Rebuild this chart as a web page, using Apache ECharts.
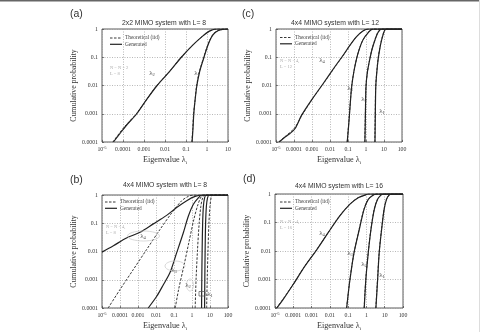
<!DOCTYPE html>
<html><head><meta charset="utf-8">
<script src="https://cdn.jsdelivr.net/npm/echarts@6/dist/echarts.min.js"></script>
<style>html,body{margin:0;padding:0;background:#fff}#c{width:480px;height:332px}</style>
</head><body><div id="c"></div>
<script>
// ---- tick labels ----
const yTickExp = [-4, -3, -2, -1, 0];
const yTickLabels = ['0.0001', '0.001', '0.01', '0.1', '1'];
const xTickExp = [-5, -4, -3, -2, -1, 0, 1, 2];
const xTickLabels = ['{b|10}{p|-5}', '0.0001', '0.001', '0.01', '0.1', '1', '10', '100'];

// ---- panel text ----
const panelLetters = ['(a)', '(c)', '(b)', '(d)'];
const panelTitles = ['2x2 MIMO system with L= 8', '4x4 MIMO system with L= 12', '4x4 MIMO system with L= 8', '4x4 MIMO system with L= 16'];
const legendNames = ['Theoretical (iid)', 'Generated'];
const panelXMax = [10, 100, 100, 100];

// ---- (a) 2x2, L=8 : [eigenvalue, cumulative probability] ----
const aTheL2 = [[3.3e-5,1e-4],[1.0e-4,3e-4],[4.3e-4,1e-3],[1.3e-3,3.1e-3],[4.1e-3,0.01],[0.017,0.032],[0.058,0.1],[0.2,0.26],[0.6,0.55],[1.3,0.84],[2.3,0.98],[3.2,1],[10,1]];
const aGenL2 = [[3.5e-5,1e-4],[7.2e-5,2.0e-4],[1.5e-4,4.0e-4],[4.5e-4,1e-3],[1.3e-3,3.1e-3],[4.2e-3,0.01],[0.017,0.032],[0.06,0.1],[0.21,0.27],[0.62,0.56],[1.3,0.84],[2.2,0.98],[3,1],[10,1]];
const aTheL1 = [[0.19,1e-4],[0.21,3e-4],[0.23,1e-3],[0.27,3e-3],[0.32,0.01],[0.44,0.032],[0.7,0.1],[1.02,0.24],[1.55,0.5],[2.3,0.73],[3.4,0.88],[5.5,0.97],[8.5,1],[10,1]];
const aGenL1 = [[0.195,1e-4],[0.215,3e-4],[0.235,1e-3],[0.27,3e-3],[0.33,0.01],[0.45,0.032],[0.72,0.1],[1.05,0.24],[1.6,0.5],[2.3,0.72],[3.5,0.88],[5.5,0.97],[8,1],[10,1]];

// ---- (c) 4x4, L=12 ----
const cTheL4 = [[1.4e-5,1e-4],[3.0e-5,1.5e-4],[1.1e-4,3.2e-4],[2.8e-4,9e-4],[9.8e-4,3.1e-3],[4.4e-3,0.012],[0.019,0.046],[0.056,0.12],[0.13,0.27],[0.3,0.54],[0.7,0.87],[1.3,1],[100,1]];
const cGenL4 = [[1.5e-5,1e-4],[3.2e-5,1.5e-4],[6.0e-5,2.0e-4],[1.15e-4,3.0e-4],[2.7e-4,9.1e-4],[9.5e-4,3.1e-3],[4.3e-3,0.012],[0.019,0.047],[0.055,0.12],[0.13,0.27],[0.3,0.54],[0.71,0.87],[1.35,1],[100,1]];
const cTheL3 = [[0.09,1e-4],[0.113,6e-4],[0.134,2.5e-3],[0.158,9e-3],[0.21,0.03],[0.3,0.09],[0.42,0.19],[0.6,0.35],[0.85,0.52],[1.15,0.66],[1.6,0.85],[2.4,1],[100,1]];
const cGenL3 = [[0.091,1e-4],[0.115,6e-4],[0.135,2.5e-3],[0.16,9e-3],[0.21,0.03],[0.3,0.09],[0.42,0.19],[0.6,0.35],[0.85,0.52],[1.15,0.66],[1.6,0.85],[2.45,1],[100,1]];
const cTheL2 = [[0.86,1e-4],[0.92,1e-3],[0.99,9e-3],[1.2,0.03],[1.65,0.09],[2.2,0.2],[3.1,0.41],[4.3,0.71],[5.6,0.9],[7.0,1],[100,1]];
const cGenL2 = [[0.87,1e-4],[0.93,1e-3],[1.0,9e-3],[1.2,0.03],[1.66,0.091],[2.2,0.2],[3.16,0.41],[4.4,0.71],[5.7,0.9],[7.0,1],[100,1]];
const cTheL1 = [[3.1,1e-4],[3.25,1e-3],[3.45,9e-3],[3.95,0.03],[4.7,0.09],[5.9,0.22],[7.3,0.41],[9.3,0.71],[11,0.9],[13,1],[100,1]];
const cGenL1 = [[3.16,1e-4],[3.3,1e-3],[3.5,9e-3],[4.0,0.03],[4.8,0.091],[6.0,0.22],[7.4,0.41],[9.4,0.71],[11,0.9],[13,1],[100,1]];

// ---- (b) 4x4, L=8 ----
const bTheL4 = [[2.2e-5,1e-4],[1e-4,4.5e-4],[5.5e-4,2.3e-3],[3.0e-3,0.0117],[0.0166,0.06],[0.074,0.23],[0.27,0.63],[0.62,0.89],[1.17,1],[100,1]];
const bGenL4 = [[1e-5,0.0095],[4.3e-5,0.016],[2.3e-4,0.03],[1.3e-3,0.048],[7.1e-3,0.095],[0.039,0.19],[0.14,0.36],[0.51,0.63],[1.5,0.89],[4.3,1],[100,1]];
const bTheL3 = [[0.117,1e-4],[0.18,4.5e-4],[0.35,3.0e-3],[0.66,0.02],[1.26,0.135],[2.14,0.46],[3.3,0.89],[4.5,1],[100,1]];
const bGenL3 = [[3.7e-3,1e-4],[0.011,2.6e-4],[0.026,6.8e-4],[0.06,1.8e-3],[0.14,8.9e-3],[0.33,0.046],[0.63,0.18],[1.17,0.46],[2.24,0.79],[3.5,1],[100,1]];
const bTheL2 = [[1.5,1e-4],[1.68,1e-3],[2.0,0.01],[2.5,0.1],[3.1,0.4],[3.9,0.79],[5.0,1],[100,1]];
const bGenL2 = [[3.4,1e-4],[3.5,1e-3],[3.65,0.01],[3.9,0.1],[4.3,0.4],[5.0,0.79],[6.2,1],[100,1]];
const bGenL1 = [[5.0,1e-4],[5.15,1e-3],[5.35,0.01],[5.7,0.1],[6.3,0.4],[7.3,0.79],[9,1],[100,1]];
const bTheL1 = [[6.5,1e-4],[7.0,1e-3],[7.7,0.01],[8.7,0.1],[10,0.4],[11.5,0.79],[14,1],[100,1]];

// ---- (d) 4x4, L=16 ----
const dTheL4 = [[1.2e-5,1e-4],[2.7e-5,2.0e-4],[1e-4,6.9e-4],[4.3e-4,3.0e-3],[1.9e-3,0.011],[8.0e-3,0.044],[0.034,0.17],[0.124,0.44],[0.35,0.74],[0.82,0.91],[1.25,1],[100,1]];
const dGenL4 = [[1.26e-5,1e-4],[2.8e-5,2.0e-4],[1e-4,6.8e-4],[4.4e-4,3.0e-3],[1.9e-3,0.011],[8.1e-3,0.044],[0.035,0.17],[0.126,0.44],[0.355,0.74],[0.83,0.91],[1.26,1],[100,1]];
const dTheL3 = [[0.082,1e-4],[0.1,3e-4],[0.124,1e-3],[0.21,8.7e-3],[0.4,0.058],[0.73,0.29],[1.25,0.65],[2.25,0.91],[3.5,1],[100,1]];
const dGenL3 = [[0.083,1e-4],[0.1,3e-4],[0.126,1e-3],[0.21,8.7e-3],[0.41,0.058],[0.74,0.29],[1.26,0.65],[2.3,0.91],[3.6,1],[100,1]];
const dTheL2 = [[0.75,1e-4],[0.92,1e-3],[1.25,8.7e-3],[1.76,0.058],[2.65,0.29],[4.0,0.65],[6.1,0.91],[8.2,1],[100,1]];
const dGenL2 = [[0.76,1e-4],[0.93,1e-3],[1.26,8.7e-3],[1.78,0.058],[2.7,0.29],[4.1,0.65],[6.2,0.91],[8.3,1],[100,1]];
const dTheL1 = [[3.25,1e-4],[4.05,1e-3],[4.95,8.7e-3],[6.7,0.058],[9.2,0.29],[12.4,0.65],[17,0.91],[24,1],[100,1]];
const dGenL1 = [[3.3,1e-4],[4.1,1e-3],[5.0,8.7e-3],[6.8,0.058],[9.3,0.29],[12.6,0.65],[17.4,0.91],[24,1],[100,1]];

const panelCurves = [
  [[aTheL2, aGenL2], [aTheL1, aGenL1]],
  [[cTheL4, cGenL4], [cTheL3, cGenL3], [cTheL2, cGenL2], [cTheL1, cGenL1]],
  [[bTheL4, bGenL4], [bTheL3, bGenL3], [bTheL2, bGenL2], [bTheL1, bGenL1]],
  [[dTheL4, dGenL4], [dTheL3, dGenL3], [dTheL2, dGenL2], [dTheL1, dGenL1]]
];

const SERIF = "'Liberation Serif','DejaVu Serif',serif";
const SANS = "'Liberation Sans','DejaVu Sans',sans-serif";
const INK = '#222';
const DASH = [2.5, 1.5];

const grids = [
  {left: 102, top: 29, width: 126, height: 113},
  {left: 276, top: 29, width: 126, height: 113},
  {left: 102, top: 195, width: 126, height: 113},
  {left: 275, top: 194, width: 128, height: 114}
];

function expOf(v) { return Math.round(Math.log10(v)); }

const xAxes = [], yAxes = [], series = [];
grids.forEach((g, i) => {
  g.show = true; g.borderColor = '#333'; g.borderWidth = 0.8; g.containLabel = false;
  xAxes.push({
    type: 'log', logBase: 10, gridIndex: i, min: 1e-5, max: panelXMax[i],
    name: 'Eigenvalue λ{s|i}', nameLocation: 'middle', nameGap: 13,
    nameTextStyle: {fontFamily: SERIF, fontSize: 8.2, color: '#333', lineHeight: 10,
      rich: {s: {fontFamily: SERIF, fontSize: 5, verticalAlign: 'bottom', lineHeight: 6, color: '#333'}}},
    axisLine: {show: false},
    axisTick: {inside: true, length: 2, lineStyle: {color: '#333', width: 0.6}},
    axisLabel: {fontFamily: SERIF, fontSize: 5.8, color: '#333', margin: 4,
      formatter: v => { const k = xTickExp.indexOf(expOf(v)); return k >= 0 ? xTickLabels[k] : ''; },
      rich: {b: {fontFamily: SERIF, fontSize: 5.8, color: '#333', lineHeight: 7},
             p: {fontFamily: SERIF, fontSize: 4, color: '#333', verticalAlign: 'top', lineHeight: 4}}},
    splitLine: {show: true, lineStyle: {type: [1, 1.5], color: '#999', width: 0.7}}
  });
  yAxes.push({
    type: 'log', logBase: 10, gridIndex: i, min: 1e-4, max: 1,
    name: 'Cumulative probability', nameLocation: 'middle', nameGap: 23,
    nameTextStyle: {fontFamily: SERIF, fontSize: 7.8, color: '#333'},
    axisLine: {show: false},
    axisTick: {inside: true, length: 2, lineStyle: {color: '#333', width: 0.6}},
    axisLabel: {fontFamily: SERIF, fontSize: 5.8, color: '#333', margin: 4,
      formatter: v => { const k = yTickExp.indexOf(expOf(v)); return k >= 0 ? yTickLabels[k] : ''; }},
    splitLine: {show: true, lineStyle: {type: [1, 1.5], color: '#999', width: 0.7}}
  });
  panelCurves[i].forEach(pair => {
    series.push({
      type: 'line', name: legendNames[0], xAxisIndex: i, yAxisIndex: i, data: pair[0], color: INK,
      showSymbol: false, symbol: 'none', smooth: 0.3, silent: true, animation: false,
      lineStyle: {color: INK, width: 0.9, type: DASH}, z: 2
    });
    series.push({
      type: 'line', name: legendNames[1], xAxisIndex: i, yAxisIndex: i, data: pair[1], color: INK,
      showSymbol: false, symbol: 'none', smooth: 0.3, silent: true, animation: false,
      lineStyle: {color: INK, width: 1.2}, z: 3
    });
  });
});

const graphics = [];
function txt(x, y, text, font, size, color, align) {
  graphics.push({type: 'text', x: x, y: y, silent: true, z: 100,
    style: {text: text, fontFamily: font, fontSize: size, fill: color,
      align: align || 'left', verticalAlign: 'middle'}});
}

// in-plot legend key (line sample + label) for each panel
const legendPos = [[110, 38], [280, 37.5], [105, 202], [280, 202]];
legendPos.forEach(p => {
  graphics.push({type: 'line', silent: true, z: 100, shape: {x1: p[0], y1: p[1], x2: p[0] + 12, y2: p[1]},
    style: {stroke: INK, lineWidth: 0.9, lineDash: DASH}});
  graphics.push({type: 'line', silent: true, z: 100, shape: {x1: p[0], y1: p[1] + 6.3, x2: p[0] + 12, y2: p[1] + 6.3},
    style: {stroke: INK, lineWidth: 1.2}});
  txt(p[0] + 15, p[1], legendNames[0], SERIF, 5.3, '#444');
  txt(p[0] + 15, p[1] + 6.3, legendNames[1], SERIF, 5.3, '#444');
});

const letterPos = [[70, 14], [242, 14], [70, 180], [243, 179]];
panelLetters.forEach((t, i) => txt(letterPos[i][0], letterPos[i][1], t, SANS, 10.5, '#333'));
const titlePos = [[164, 23], [335, 23], [165, 185], [339, 186]];
panelTitles.forEach((t, i) => txt(titlePos[i][0], titlePos[i][1], t, SANS, 6.8, '#333', 'center'));

const lamRich = {l: {fontFamily: SERIF, fontSize: 7, fill: '#444', lineHeight: 9},
                 s: {fontFamily: SERIF, fontSize: 4.5, fill: '#444', verticalAlign: 'bottom', lineHeight: 5}};
function lam(x, y, k) {
  graphics.push({type: 'text', x: x, y: y, silent: true, z: 100,
    style: {text: '{l|λ}{s|' + k + '}', rich: lamRich, align: 'center', verticalAlign: 'middle'}});
}
// (a)
lam(152, 73, 2); lam(197, 73, 1);
// (c)
lam(322, 60, 4); lam(350, 88, 3); lam(364, 99, 2); lam(382, 111, 1);
// (b)
lam(143, 236, 4); lam(174, 270, 3); lam(188, 285, 2); lam(210, 294, 1);
// (d)
lam(322, 233, 4); lam(350, 253, 3); lam(364, 264, 2); lam(382, 275, 1);

// parameter notes
const noteColor = '#aaa';
txt(110, 68, 'N = N = 2', SERIF, 4.5, noteColor); txt(110, 74, 'L = 8', SERIF, 4.5, noteColor);
txt(280, 61, 'N = N = 4,', SERIF, 4.5, noteColor); txt(280, 67, 'L = 12', SERIF, 4.5, noteColor);
txt(106, 227, 'N = N = 4,', SERIF, 4.5, noteColor); txt(106, 232.5, 'L = 8', SERIF, 4.5, noteColor);
txt(280, 222, 'N = N = 4,', SERIF, 4.5, noteColor); txt(280, 227.5, 'L = 16', SERIF, 4.5, noteColor);

// (b) hand-drawn annotation marks
const ann = {fill: 'none', stroke: '#c8c8c8', lineWidth: 0.7};
graphics.push({type: 'ellipse', silent: true, z: 90, shape: {cx: 143.5, cy: 236, rx: 16, ry: 5}, style: ann});
graphics.push({type: 'ellipse', silent: true, z: 90, shape: {cx: 175, cy: 266, rx: 10, ry: 5}, style: ann});
graphics.push({type: 'ellipse', silent: true, z: 90, shape: {cx: 190, cy: 285, rx: 3.5, ry: 6}, style: ann});
graphics.push({type: 'rect', silent: true, z: 90, shape: {x: 199, y: 291.5, width: 6, height: 4.5}, style: {fill: 'none', stroke: '#555', lineWidth: 0.7}});

// page frame
graphics.push({type: 'line', silent: true, shape: {x1: 0, y1: 0.75, x2: 480, y2: 0.75}, style: {stroke: '#666', lineWidth: 1.5}});
graphics.push({type: 'line', silent: true, shape: {x1: 479.5, y1: 0, x2: 479.5, y2: 332}, style: {stroke: '#ddd', lineWidth: 1}});

const chart = echarts.init(document.getElementById('c'), null, {renderer: 'canvas'});
chart.setOption({
  animation: false,
  backgroundColor: '#fff',
  grid: grids, xAxis: xAxes, yAxis: yAxes, series: series, graphic: graphics
});
</script></body></html>
